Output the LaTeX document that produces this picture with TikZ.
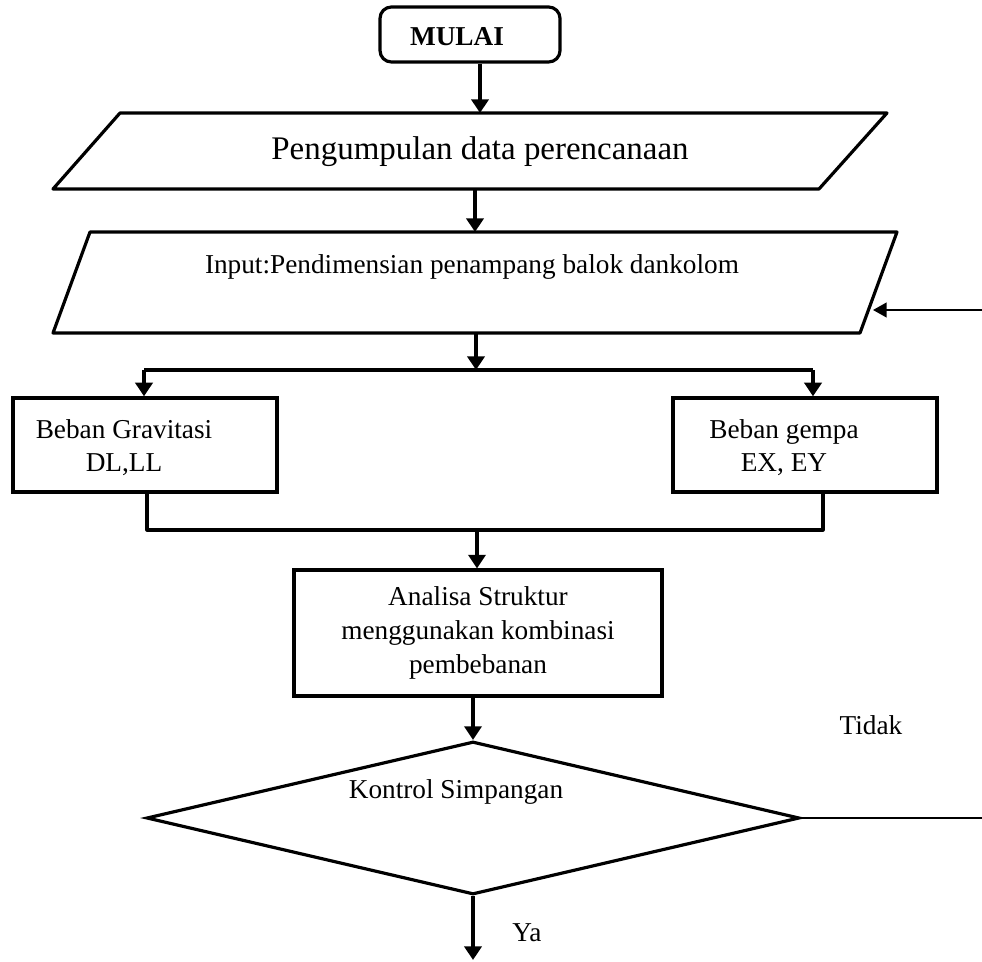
\documentclass[tikz,border=0pt]{standalone}
\usepackage{fontspec}
\setmainfont{Liberation Serif}
\usepackage{tikz}
\usetikzlibrary{shapes.geometric}
\usetikzlibrary{arrows.meta}
\tikzstyle{Shape}=[draw,line width=1.4pt,inner sep=0pt]
\tikzstyle{Lbl}=[inner sep=0pt,align=center,font=\fontsize{12}{14.5}\selectfont]
\tikzstyle{Edge}=[line width=1.5pt,-{Triangle[length=6pt,width=7.5pt]}]
\tikzstyle{Wire}=[line width=1.4pt,line join=round]
\tikzstyle{Thin}=[line width=0.8pt]

\begin{document}
\begin{tikzpicture}[x=0.44pt,y=-0.44pt]
    \useasboundingbox(0,0)rectangle(982,962);
    % start
    \node[Shape,rounded corners=5pt,minimum width=79.2pt,
        minimum height=24.2pt](mulai)at(470,34.5){};
    \node[Lbl,font=\fontsize{12}{14.5}\selectfont\bfseries](mulaitxt)
        at(457,37){MULAI};
    % data
    \draw[Wire](120,113)--(887,113)--(819,189)--(53,189)--cycle;
    \node[Lbl,font=\fontsize{14.5}{17}\selectfont](data)
        at(480,152){Pengumpulan data perencanaan};
    \coordinate(datan)at(480,113);
    \coordinate(datas)at(475,189);
    % input
    \draw[Wire](90,232)--(897,232)--(860,333)--(53,333)--cycle;
    \node[Lbl](input)at(472,267){Input:Pendimensian penampang balok dankolom};
    \coordinate(inputn)at(475,232);
    \coordinate(inputs)at(476,333);
    \coordinate(inpute)at(873,310);
    \coordinate(retour)at(982,310);
    % loads
    \node[Shape,minimum width=116.2pt,minimum height=41.4pt](grav)at(145,445){};
    \node[Lbl](gravtxt)at(124,448){Beban Gravitasi\\DL,LL};
    \node[Shape,minimum width=116.2pt,minimum height=41.4pt](gempa)at(805,445){};
    \node[Lbl](gempatxt)at(784,448){Beban gempa\\EX, EY};
    \coordinate(split)at(476,370);
    \coordinate(lsplit)at(144,370);
    \coordinate(rsplit)at(813,370);
    \coordinate(ljoin)at(147,530);
    \coordinate(join)at(477,530);
    \coordinate(rjoin)at(823,530);
    % analysis
    \node[Shape,Lbl,minimum width=161.9pt,minimum height=55.4pt,
        font=\fontsize{12}{15}\selectfont]
        (ana)at(478,633){Analisa Struktur\\menggunakan kombinasi\\pembebanan};
    % check
    \node[Shape,diamond,minimum width=287.3pt,minimum height=67.3pt](kontrol)at(473,818){};
    \node[Lbl](kontroltxt)at(456,792){Kontrol Simpangan};
    \node[Lbl](tidak)at(871,725){Tidak};
    \node[Lbl](ya)at(527,933){Ya};
    \coordinate(back)at(982,818);
    \coordinate(end)at(471,960);
    % connectors
    \draw[Edge](mulai.south-|datan)--(datan);
    \draw[Edge](datas)--(inputn);
    \draw[Edge](inputs)--(split);
    \draw[Wire](lsplit)--(rsplit);
    \draw[Edge](lsplit)--(lsplit|-grav.north);
    \draw[Edge](rsplit)--(rsplit|-gempa.north);
    \draw[Wire](ljoin|-grav.south)--(ljoin)--(rjoin)--(rjoin|-gempa.south);
    \draw[Edge](join)--(join|-ana.north);
    \draw[Edge](kontrol.north|-ana.south)--(kontrol.north);
    \draw[Edge](kontrol.south)--(kontrol.south|-end);
    \draw[Thin](kontrol.east)--(back);
    \draw[Thin,-{Triangle[length=6pt,width=6.5pt]}](retour)--(inpute);
\end{tikzpicture}
\end{document}
